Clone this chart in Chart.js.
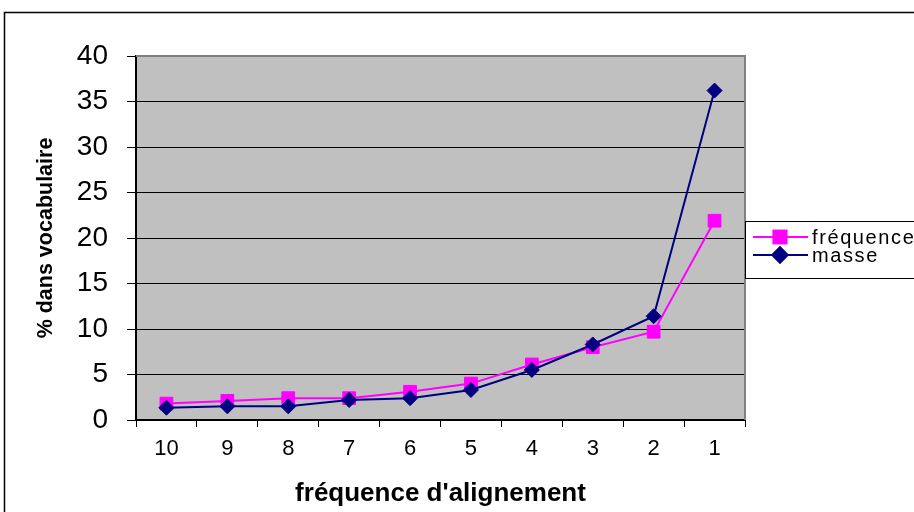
<!DOCTYPE html>
<html>
<head>
<meta charset="utf-8">
<script src="https://cdn.jsdelivr.net/npm/chart.js@4/dist/chart.umd.min.js"></script>
<style>
  html, body { margin: 0; padding: 0; background: #fff; }
  #wrap { position: relative; width: 914px; height: 512px; }
</style>
</head>
<body>
<div id="wrap"><canvas id="c" width="914" height="512"></canvas></div>
<script>
// Alignment frequency classes (10 = most frequent ... 1)
const categories = ['10', '9', '8', '7', '6', '5', '4', '3', '2', '1'];
// Share of vocabulary (%) per frequency class
const frequenceValues = [1.8, 2.1, 2.4, 2.4, 3.1, 4.0, 6.1, 8.0, 9.7, 21.9];
const masseValues     = [1.35, 1.5, 1.5, 2.2, 2.4, 3.3, 5.5, 8.3, 11.4, 36.2];
const yTicks = [0, 5, 10, 15, 20, 25, 30, 35, 40];

const FONT = '"Liberation Sans", Arial, sans-serif';

// Gray plot background, gray frame on top/right, page frame
const framePlugin = {
  id: 'frame',
  beforeDraw(chart) {
    const { ctx, chartArea: a } = chart;
    ctx.save();
    ctx.fillStyle = '#c0c0c0';
    ctx.fillRect(a.left, a.top, a.right - a.left, a.bottom - a.top);
    ctx.strokeStyle = '#000';
    ctx.lineWidth = 1.5;
    ctx.beginPath();
    ctx.moveTo(4.5, 520);
    ctx.lineTo(4.5, 12.5);
    ctx.lineTo(920, 12.5);
    ctx.stroke();
    ctx.restore();
  },
  beforeDatasetsDraw(chart) {
    const { ctx, chartArea: a } = chart;
    ctx.save();
    ctx.strokeStyle = '#808080';
    ctx.lineWidth = 2;
    ctx.beginPath();
    ctx.moveTo(a.left, a.top);
    ctx.lineTo(a.right, a.top);
    ctx.lineTo(a.right, a.bottom);
    ctx.stroke();
    ctx.restore();
  }
};

// Boxed legend on the right, overlapping the plot edge
const legendBox = {
  id: 'legendBox',
  afterDraw(chart) {
    const { ctx } = chart;
    const x0 = 745, y0 = 221, w = 180, h = 57;
    ctx.save();
    ctx.fillStyle = '#fff';
    ctx.fillRect(x0, y0, w, h);
    ctx.strokeStyle = '#000';
    ctx.lineWidth = 1;
    ctx.strokeRect(x0 + 0.5, y0 + 0.5, w, h);
    const rows = [
      { ds: chart.data.datasets[0], y: 237 },
      { ds: chart.data.datasets[1], y: 255 }
    ];
    rows.forEach(r => {
      ctx.strokeStyle = r.ds.borderColor;
      ctx.lineWidth = 2;
      ctx.beginPath();
      ctx.moveTo(753, r.y);
      ctx.lineTo(808, r.y);
      ctx.stroke();
      Chart.helpers.drawPoint(ctx, {
        pointStyle: r.ds.pointStyle,
        radius: r.ds.pointRadius,
        borderWidth: 1,
        rotation: 0
      }, 780, r.y);
      ctx.fillStyle = r.ds.pointBackgroundColor;
      ctx.strokeStyle = r.ds.pointBorderColor;
      ctx.fill();
      ctx.stroke();
      ctx.fillStyle = '#000';
      ctx.font = '20px ' + FONT;
      ctx.letterSpacing = '1.6px';
      ctx.textBaseline = 'middle';
      ctx.textAlign = 'left';
      ctx.fillText(r.ds.label, 812, r.y + 1);
    });
    ctx.restore();
  }
};

new Chart(document.getElementById('c'), {
  type: 'line',
  data: {
    labels: categories,
    datasets: [
      {
        label: 'fréquence',
        data: frequenceValues,
        borderColor: '#ff00ff',
        backgroundColor: '#ff00ff',
        pointBackgroundColor: '#ff00ff',
        pointBorderColor: '#ff00ff',
        pointStyle: 'rect',
        pointRadius: 9,
        pointBorderWidth: 1,
        borderWidth: 2,
        tension: 0,
        order: 1
      },
      {
        label: 'masse',
        data: masseValues,
        borderColor: '#000080',
        backgroundColor: '#000080',
        pointBackgroundColor: '#000080',
        pointBorderColor: '#000080',
        pointStyle: 'rectRot',
        pointRadius: 7.5,
        pointBorderWidth: 1,
        borderWidth: 2,
        tension: 0,
        order: 0
      }
    ]
  },
  options: {
    responsive: false,
    animation: false,
    events: [],
    layout: { padding: { left: 0, top: 56, right: 169, bottom: 0 } },
    plugins: {
      legend: { display: false },
      tooltip: { enabled: false }
    },
    scales: {
      x: {
        type: 'category',
        offset: true,
        afterFit(s) { s.height = 92; },
        border: { display: true, color: '#000', width: 2 },
        grid: {
          offset: true,
          drawOnChartArea: false,
          drawTicks: true,
          tickLength: 7,
          color: '#000',
          tickColor: '#000',
          lineWidth: 1
        },
        ticks: {
          color: '#000',
          padding: 9,
          maxRotation: 0,
          font: { family: FONT, size: 22 }
        },
        title: {
          display: true,
          text: "fréquence d'alignement",
          color: '#000',
          font: { family: FONT, size: 26, weight: 'bold' },
          padding: { top: 0, bottom: 3 }
        }
      },
      y: {
        min: 0,
        max: 40,
        afterFit(s) { s.width = 136; },
        afterBuildTicks(s) { s.ticks = yTicks.map(v => ({ value: v })); },
        border: { display: true, color: '#000', width: 2 },
        grid: {
          drawTicks: true,
          tickLength: 9,
          color: c => (c.tick && c.tick.value === 40 ? '#808080' : '#000'),
          tickColor: '#000',
          lineWidth: 1
        },
        ticks: {
          color: '#000',
          padding: 19,
          font: { family: FONT, size: 28 }
        },
        title: {
          display: true,
          text: '% dans vocabulaire',
          color: '#000',
          font: { family: FONT, size: 21.5, weight: 'bold' },
          padding: { top: 33, bottom: 0 }
        }
      }
    }
  },
  plugins: [framePlugin, legendBox]
});
</script>
</body>
</html>
